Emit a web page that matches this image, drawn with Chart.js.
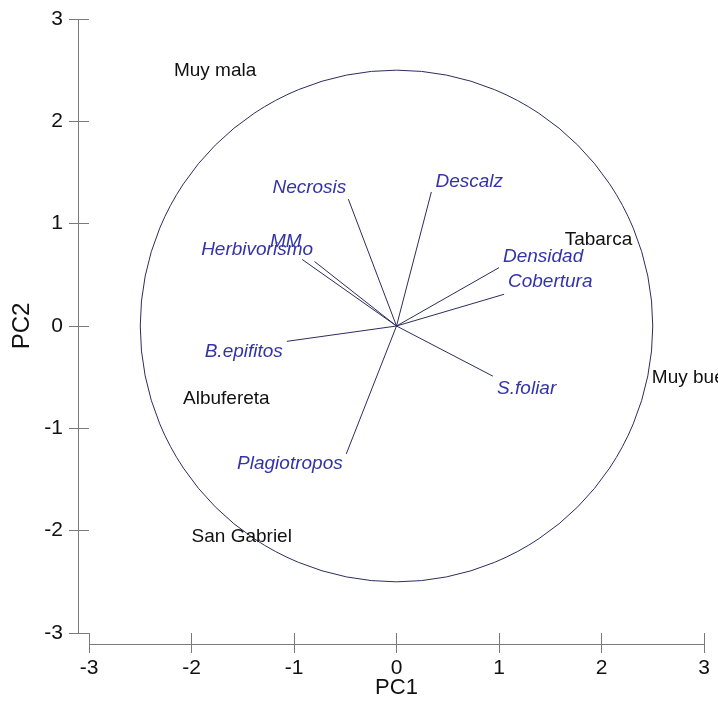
<!DOCTYPE html>
<html>
<head>
<meta charset="utf-8">
<script src="https://cdn.jsdelivr.net/npm/chart.js@4.4.0/dist/chart.umd.min.js"></script>
<style>
  html, body { margin: 0; padding: 0; background: #fff; }
  #wrap { width: 718px; height: 709px; }
</style>
</head>
<body>
<div id="wrap"><canvas id="biplot"></canvas></div>
<script>
// variable loadings (arrow tips) and where their names sit, in PC units
const variables = ['Necrosis', 'Descalz', 'Densidad', 'Cobertura', 'Herbivorismo', 'MM', 'B.epifitos', 'Plagiotropos', 'S.foliar'];
const varX = [-0.47, 0.34, 1.00, 1.05, -0.92, -0.80, -1.07, -0.49, 0.94];
const varY = [1.24, 1.31, 0.57, 0.31, 0.65, 0.63, -0.15, -1.25, -0.49];
const varLabelX = [-0.85, 0.71, 1.43, 1.50, -1.36, -1.08, -1.49, -1.04, 1.27];
const varLabelY = [1.35, 1.41, 0.68, 0.43, 0.75, 0.82, -0.25, -1.35, -0.61];

// site scores
const sites = ['Muy mala', 'Tabarca', 'Muy buena', 'Albufereta', 'San Gabriel'];
const siteX = [-1.77, 1.97, 2.95, -1.66, -1.51];
const siteY = [2.49, 0.84, -0.51, -0.71, -2.06];

const axisTicks = [-3, -2, -1, 0, 1, 2, 3];
const circleRadius = 2.5;

const FONT = "Arial, 'Liberation Sans', sans-serif";
const AXIS_COLOR = '#7a7a7a';
const LINE_COLOR = '#2c2c5e';
const BLUE = '#3434a8';

const vectorSets = variables.map((name, i) => ({
  label: name,
  data: [{ x: 0, y: 0 }, { x: varX[i], y: varY[i] }],
  showLine: true,
  borderColor: LINE_COLOR,
  borderWidth: 1,
  pointRadius: 0,
}));

const siteSet = {
  label: 'sites',
  data: sites.map((s, i) => ({ x: siteX[i], y: siteY[i] })),
  pointRadius: 0,
};

const biplotExtras = {
  id: 'biplotExtras',
  beforeDatasetsDraw(chart) {
    const { ctx, scales: { x, y } } = chart;
    const cx = x.getPixelForValue(0), cy = y.getPixelForValue(0);
    const rx = x.getPixelForValue(circleRadius) - cx;
    const ry = cy - y.getPixelForValue(circleRadius);
    ctx.save();
    ctx.strokeStyle = LINE_COLOR;
    ctx.lineWidth = 1;
    ctx.beginPath();
    ctx.ellipse(cx, cy, rx, ry, 0, 0, Math.PI * 2);
    ctx.stroke();
    ctx.restore();
  },
  afterDraw(chart) {
    const { ctx, chartArea, scales: { x, y } } = chart;
    ctx.save();
    // detached axis lines, like the original
    ctx.strokeStyle = AXIS_COLOR;
    ctx.lineWidth = 1;
    const ax = Math.round(chartArea.left - 11) + 0.5;
    const ay = Math.round(chartArea.bottom + 11) + 0.5;
    ctx.beginPath();
    ctx.moveTo(ax, y.getPixelForValue(3));
    ctx.lineTo(ax, y.getPixelForValue(-3));
    ctx.moveTo(x.getPixelForValue(-3), ay);
    ctx.lineTo(x.getPixelForValue(3), ay);
    ctx.stroke();

    ctx.textAlign = 'center';
    ctx.textBaseline = 'middle';
    ctx.fillStyle = BLUE;
    ctx.font = 'italic 19px ' + FONT;
    variables.forEach((name, i) => {
      ctx.fillText(name, x.getPixelForValue(varLabelX[i]), y.getPixelForValue(varLabelY[i]));
    });

    ctx.fillStyle = '#111';
    ctx.font = '19px ' + FONT;
    sites.forEach((name, i) => {
      ctx.fillText(name, x.getPixelForValue(siteX[i]), y.getPixelForValue(siteY[i]));
    });
    ctx.restore();
  }
};

const axisOpts = (title, isX) => ({
  type: 'linear',
  min: -3,
  max: 3,
  afterBuildTicks: (scale) => { scale.ticks = axisTicks.map(v => ({ value: v })); },
  afterFit: (scale) => {
    if (isX) scale.height = 76; else scale.width = 89;
  },
  border: { display: false },
  grid: {
    drawOnChartArea: false,
    drawTicks: true,
    tickLength: 20,
    color: AXIS_COLOR,
    lineWidth: 1,
  },
  ticks: {
    color: '#111',
    font: { family: FONT, size: 21 },
    padding: isX ? 3 : 6,
    maxRotation: 0,
    callback: (v) => String(v),
  },
  title: {
    display: true,
    text: title,
    color: '#111',
    font: { family: FONT, size: isX ? 22 : 24 },
    padding: isX ? { top: 0, bottom: 8 } : { top: 8, bottom: 0 },
  },
});

new Chart(document.getElementById('biplot'), {
  type: 'scatter',
  data: { datasets: [...vectorSets, siteSet] },
  options: {
    responsive: true,
    maintainAspectRatio: false,
    animation: false,
    layout: { padding: { top: 19, right: 14, left: 0, bottom: 0 } },
    plugins: { legend: { display: false }, tooltip: { enabled: false } },
    scales: {
      x: axisOpts('PC1', true),
      y: axisOpts('PC2', false),
    },
  },
  plugins: [biplotExtras],
});
</script>
</body>
</html>
